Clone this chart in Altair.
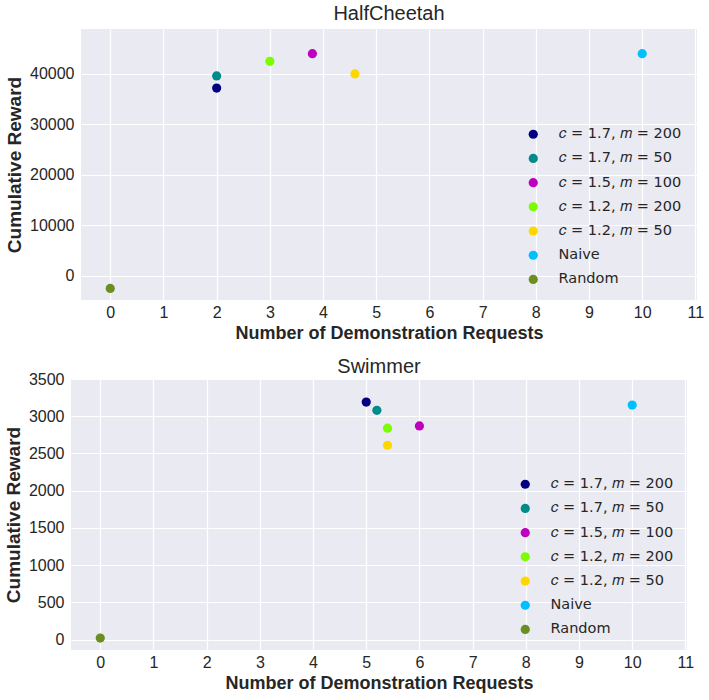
import altair as alt
import pandas as pd

methods = ["𝑐 = 1.7, 𝑚 = 200", "𝑐 = 1.7, 𝑚 = 50", "𝑐 = 1.5, 𝑚 = 100",
           "𝑐 = 1.2, 𝑚 = 200", "𝑐 = 1.2, 𝑚 = 50", "Naive", "Random"]
colors = ["#000080", "#008B8B", "#BF00BF", "#7CFC00", "#FFD700", "#00BFFF", "#6B8E23"]

hc_x = [2, 2, 3.8, 3, 4.6, 10, 0]
hc_y = [37200, 39600, 44000, 42500, 40000, 44000, -2500]

sw_x = [5, 5.2, 6, 5.4, 5.4, 10, 0]
sw_y = [3190, 3080, 2870, 2840, 2610, 3150, 20]

x_ticks = list(range(0, 12))
hc_y_ticks = [0, 10000, 20000, 30000, 40000]
sw_y_ticks = [0, 500, 1000, 1500, 2000, 2500, 3000, 3500]

hc = pd.DataFrame({"method": methods, "x": hc_x, "y": hc_y})
sw = pd.DataFrame({"method": methods, "x": sw_x, "y": sw_y})


def panel(df, title, ydom, yticks, toff, lx, ly):
    return alt.Chart(df, title=alt.Title(title, fontSize=20, fontWeight="normal",
                                         font="Liberation Sans", color="#262626", offset=toff)).mark_circle(
        size=85, opacity=1
    ).encode(
        x=alt.X("x:Q", title="Number of Demonstration Requests",
                scale=alt.Scale(domain=[-0.55, 11.03], nice=False, zero=False),
                axis=alt.Axis(values=x_ticks, format="d")),
        y=alt.Y("y:Q", title="Cumulative Reward",
                scale=alt.Scale(domain=ydom, nice=False, zero=False),
                axis=alt.Axis(values=yticks, format="d")),
        color=alt.Color("method:N", title=None,
                        scale=alt.Scale(domain=methods, range=colors),
                        sort=methods,
                        legend=alt.Legend(orient="none", legendX=lx, legendY=ly)),
    ).properties(width=616, height=271)


top = panel(hc, "HalfCheetah", [-4800, 48900], hc_y_ticks, 5, 455, 98)
bot = panel(sw, "Swimmer", [-140, 3500], sw_y_ticks, -6, 447, 98)

# invisible 1px spacer used only to shift the top panel relative to the bottom one
spacer = alt.Chart(pd.DataFrame({"s": [0]})).mark_point(size=1, opacity=0).encode(
    x=alt.value(0.5), y=alt.value(0.5)
).properties(width=1, height=1, view=alt.ViewBackground(opacity=0, strokeOpacity=0, fillOpacity=0))

top_row = alt.hconcat(spacer, top, spacing=-67)

chart = alt.vconcat(top_row, bot, spacing=15).resolve_scale(
    color="independent").resolve_legend(color="independent").properties(
    padding={"left": 4, "top": 4, "right": 5, "bottom": 5},
    background="white",
).configure_view(
    fill="#EAEAF2", stroke=None
).configure_axis(
    grid=True, gridColor="white", gridWidth=1.2, domain=False, ticks=False,
    labelFont="Liberation Sans", labelFontSize=16, labelColor="#262626", labelPadding=7,
    titleFont="Liberation Sans", titleFontSize=18, titleFontWeight="bold", titleColor="#262626",
).configure_axisX(titlePadding=4, labelPadding=4).configure_axisY(titlePadding=5, titleFontSize=19).configure_legend(
    labelFont="DejaVu Sans", labelFontSize=14.5, labelColor="#262626",
    symbolType="circle", symbolSize=85, symbolStrokeWidth=0, labelOffset=18,
    rowPadding=9.2, padding=0,
)

chart.save("out.html", embed_options={"renderer": "svg", "actions": False})
